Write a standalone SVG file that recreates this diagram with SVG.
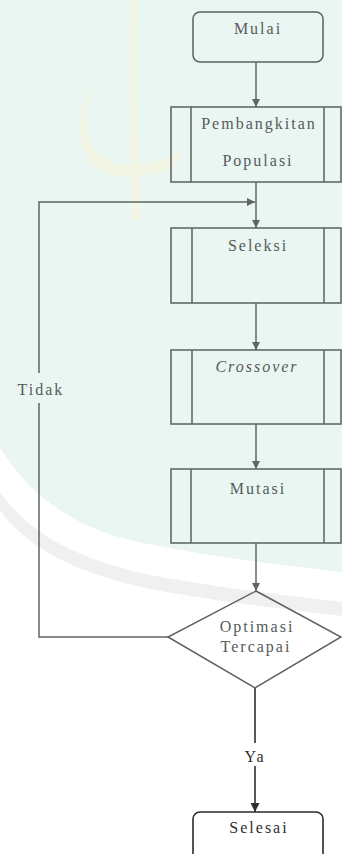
<svg xmlns="http://www.w3.org/2000/svg" width="342" height="854" viewBox="0 0 342 854">
  <style>
    .box { fill: none; stroke: #59625f; stroke-width: 1.5; }
    .dark { fill: none; stroke: #2b2b2b; stroke-width: 1.6; }
    .line { fill: none; stroke: #5f6663; stroke-width: 1.5; }
    .line-dark { fill: none; stroke: #2e2e2e; stroke-width: 1.6; }
    .lbl { font-family: "Liberation Serif", "DejaVu Serif", serif; font-size: 16px; letter-spacing: 2px; fill: #565b59; text-anchor: middle; }
    .lbl-dark { fill: #2f2f2f; }
    .it { font-style: italic; }
  </style>
  <defs>
    <marker id="arrow" viewBox="0 0 10 10" refX="10" refY="5" markerWidth="8" markerHeight="8" markerUnits="userSpaceOnUse" orient="auto">
      <path d="M0,0 L10,5 L0,10 z" fill="#5f6663"/>
    </marker>
    <marker id="arrow-dark" viewBox="0 0 10 10" refX="10" refY="5" markerWidth="9" markerHeight="9" markerUnits="userSpaceOnUse" orient="auto">
      <path d="M0,0 L10,5 L0,10 z" fill="#2e2e2e"/>
    </marker>
  </defs>

  <!-- page background with the faint watermark -->
  <g id="background">
    <rect x="0" y="0" width="342" height="854" fill="#ffffff"/>
    <path d="M0,0 H342 V572 C290,566 200,556 130,540 C70,525 30,495 0,448 Z" fill="#eaf6f2"/>
    <path d="M0,492 C30,535 80,560 150,575 C220,588 290,596 342,602 L342,616 C290,610 220,602 150,589 C80,574 28,550 0,510 Z" fill="#f0f0f0"/>
    <path d="M130,0 C128,60 130,140 132,220 L140,220 C138,140 136,60 138,0 Z" fill="#f3f6e4"/>
    <path d="M98,78 C80,110 82,150 112,162 C140,172 168,158 180,150 L182,160 C160,178 120,182 98,168 C72,150 76,108 98,78 Z" fill="#f3f6e4"/>
  </g>

  <!-- connectors -->
  <g id="connectors">
    <line class="line" x1="256" y1="62" x2="256" y2="107" marker-end="url(#arrow)"/>
    <line class="line" x1="256" y1="182" x2="256" y2="228" marker-end="url(#arrow)"/>
    <polyline class="line" points="168,637 39,637 39,403"/>
    <polyline class="line" points="39,373 39,202 255,202" marker-end="url(#arrow)"/>
    <line class="line" x1="256" y1="303" x2="256" y2="350" marker-end="url(#arrow)"/>
    <line class="line" x1="256" y1="424" x2="256" y2="469" marker-end="url(#arrow)"/>
    <line class="line" x1="256" y1="543" x2="256" y2="591" marker-end="url(#arrow)"/>
    <line class="line-dark" x1="255" y1="688" x2="255" y2="743"/>
    <line class="line-dark" x1="255" y1="766" x2="255" y2="812" marker-end="url(#arrow-dark)"/>
    <text class="lbl" x="41" y="395">Tidak</text>
    <text class="lbl lbl-dark" x="255" y="762">Ya</text>
  </g>

  <g id="mulai">
    <rect class="box" x="193" y="12" width="130" height="50" rx="7"/>
    <text class="lbl" x="258" y="34">Mulai</text>
  </g>

  <g id="pembangkitan-populasi">
    <rect class="box" x="171" y="107" width="170" height="75"/>
    <line class="box" x1="191" y1="107" x2="191" y2="182"/>
    <line class="box" x1="324" y1="107" x2="324" y2="182"/>
    <text class="lbl" x="259" y="129">Pembangkitan</text>
    <text class="lbl" x="258" y="166">Populasi</text>
  </g>

  <g id="seleksi">
    <rect class="box" x="171" y="228" width="170" height="75"/>
    <line class="box" x1="192" y1="228" x2="192" y2="303"/>
    <line class="box" x1="324" y1="228" x2="324" y2="303"/>
    <text class="lbl" x="258" y="251">Seleksi</text>
  </g>

  <g id="crossover">
    <rect class="box" x="171" y="350" width="170" height="74"/>
    <line class="box" x1="192" y1="350" x2="192" y2="424"/>
    <line class="box" x1="324" y1="350" x2="324" y2="424"/>
    <text class="lbl it" x="257" y="372">Crossover</text>
  </g>

  <g id="mutasi">
    <rect class="box" x="171" y="469" width="170" height="74"/>
    <line class="box" x1="191" y1="469" x2="191" y2="543"/>
    <line class="box" x1="324" y1="469" x2="324" y2="543"/>
    <text class="lbl" x="258" y="494">Mutasi</text>
  </g>

  <g id="optimasi-tercapai">
    <polygon class="box" points="256,591 341,637 255,688 168,637" fill="#ffffff"/>
    <text class="lbl" x="257" y="632">Optimasi</text>
    <text class="lbl" x="256" y="652">Tercapai</text>
  </g>

  <g id="selesai">
    <rect class="dark" x="193" y="812" width="130" height="60" rx="7"/>
    <text class="lbl lbl-dark" x="259" y="833">Selesai</text>
  </g>
</svg>
